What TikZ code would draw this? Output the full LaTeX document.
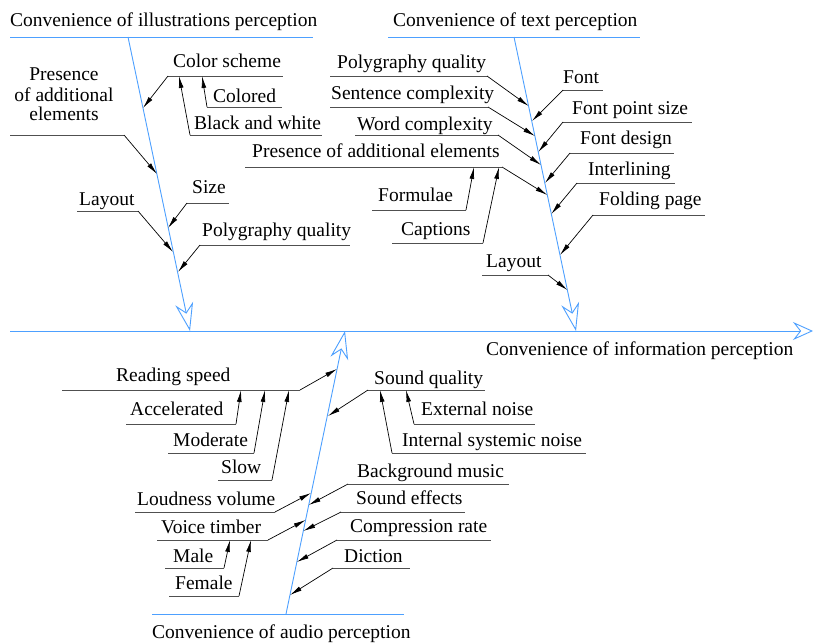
\documentclass[tikz,border=0pt]{standalone}
\usepackage{fontspec}
\setmainfont{Liberation Serif}
\usetikzlibrary{arrows.meta}
\definecolor{bone}{RGB}{77,160,255}
\definecolor{ul}{RGB}{80,80,80}
\begin{document}
\begin{tikzpicture}[x=1pt,y=-1pt,
  lbl/.style={anchor=base west,inner sep=0pt,font=\fontsize{19.5}{22}\selectfont},
  bonel/.style={draw=bone,line width=0.9pt},
  bigarrow/.style={-{Stealth[open,length=28pt,width=18pt,inset=9pt]},draw=bone,line width=0.9pt},
  uline/.style={draw=ul,line width=0.9pt},
  conn/.style={draw=black,line width=0.7pt,-{Latex[length=12pt,width=4.8pt]}}]
\useasboundingbox (0,0) rectangle (813,642);
\fill[white] (0,0) rectangle (813,642);

% ---------- main axis ----------
\coordinate (M0) at (10,331);
\coordinate (M1) at (813,331);
\draw[bonel,-{Stealth[open,length=20pt,width=18pt,inset=7pt]}] (M0) -- (M1);
\node[lbl] (main) at (486,355) {Convenience of information perception};

% ---------- illustrations bone ----------
\node[lbl] (ti) at (10,27) {Convenience of illustrations perception};
\coordinate (I0) at (128,37);
\coordinate (I1) at (190,331);
\draw[bonel] (10,37) coordinate (IL) -- (313,37) coordinate (IR);
\draw[bigarrow] (I0) -- (I1);
\coordinate (iCS) at (143,108);
\coordinate (iPr) at (157,174);
\coordinate (iSz) at (168,228);
\coordinate (iLa) at (173,252);
\coordinate (iPq) at (178,272);

\node[lbl] (cs) at (173,67) {Color scheme};
\draw[uline] (168,76) coordinate (csL) -- (283,76) coordinate (csR);
\draw[conn] (csL) -- (iCS);
\coordinate (csA) at (202,76);
\coordinate (csB) at (179,76);

\node[lbl] (col) at (213,102) {Colored};
\draw[uline] (207,107) coordinate (colL) -- (282,107) coordinate (colR);
\draw[conn] (colL) -- (csA);

\node[lbl] (bw) at (194,129) {Black and white};
\draw[uline] (190,135) coordinate (bwL) -- (322,135) coordinate (bwR);
\draw[conn] (bwL) -- (csB);

\node[lbl,anchor=base] (pr1) at (64,81) {Presence};
\node[lbl,anchor=base] (pr2) at (64,101) {of additional};
\node[lbl,anchor=base] (pr3) at (64,120) {elements};
\draw[uline] (10,135) coordinate (prL) -- (124,135) coordinate (prR);
\draw[conn] (prR) -- (iPr);

\node[lbl] (la) at (79,205) {Layout};
\draw[uline] (77,211) coordinate (laL) -- (138,211) coordinate (laR);
\draw[conn] (laR) -- (iLa);

\node[lbl] (sz) at (192,193) {Size};
\draw[uline] (187,203) coordinate (szL) -- (229,203) coordinate (szR);
\draw[conn] (szL) -- (iSz);

\node[lbl] (pq) at (202,236) {Polygraphy quality};
\draw[uline] (200,245) coordinate (pqL) -- (350,245) coordinate (pqR);
\draw[conn] (pqL) -- (iPq);

% ---------- text bone ----------
\node[lbl] (tt) at (393,27) {Convenience of text perception};
\coordinate (T0) at (514,37);
\coordinate (T1) at (576,331);
\draw[bonel] (388,37) coordinate (TL) -- (640,37) coordinate (TR);
\draw[bigarrow] (T0) -- (T1);
\coordinate (tPq) at (528.6,106);
\coordinate (tFo) at (532,121);
\coordinate (tSc) at (535,136);
\coordinate (tFp) at (538.3,152);
\coordinate (tWc) at (541,165);
\coordinate (tFd) at (545,183);
\coordinate (tPr) at (547.3,195);
\coordinate (tIn) at (551.3,214);
\coordinate (tFg) at (560,255);
\coordinate (tLa) at (567.4,290);

\node[lbl] (tpq) at (337,68) {Polygraphy quality};
\draw[uline] (330,76) coordinate (tpqL) -- (487,76) coordinate (tpqR);
\draw[conn] (tpqR) -- (tPq);

\node[lbl] (tsc) at (331,99) {Sentence complexity};
\draw[uline] (330,107) coordinate (tscL) -- (488,107) coordinate (tscR);
\draw[conn] (tscR) -- (tSc);

\node[lbl] (twc) at (357,130) {Word complexity};
\draw[uline] (355,135) coordinate (twcL) -- (498,135) coordinate (twcR);
\draw[conn] (twcR) -- (tWc);

\node[lbl] (tpr) at (252,157) {Presence of additional elements};
\draw[uline] (245,167) coordinate (tprL) -- (502,167) coordinate (tprR);
\draw[conn] (tprR) -- (tPr);
\coordinate (tprA) at (474,167);
\coordinate (tprB) at (499,167);

\node[lbl] (tfm) at (378,201) {Formulae};
\draw[uline] (372,210) coordinate (tfmL) -- (466,210) coordinate (tfmR);
\draw[conn] (tfmR) -- (tprA);

\node[lbl] (tca) at (401,235) {Captions};
\draw[uline] (392,243) coordinate (tcaL) -- (483,243) coordinate (tcaR);
\draw[conn] (tcaR) -- (tprB);

\node[lbl] (tla) at (486,267) {Layout};
\draw[uline] (482,275) coordinate (tlaL) -- (548,275) coordinate (tlaR);
\draw[conn] (tlaR) -- (tLa);

\node[lbl] (tfo) at (563,83) {Font};
\draw[uline] (563,90) coordinate (tfoL) -- (603,90) coordinate (tfoR);
\draw[conn] (tfoL) -- (tFo);

\node[lbl] (tfp) at (572,114) {Font point size};
\draw[uline] (563,122) coordinate (tfpL) -- (692,122) coordinate (tfpR);
\draw[conn] (tfpL) -- (tFp);

\node[lbl] (tfd) at (580,144) {Font design};
\draw[uline] (570,153) coordinate (tfdL) -- (674,153) coordinate (tfdR);
\draw[conn] (tfdL) -- (tFd);

\node[lbl] (tin) at (588,175) {Interlining};
\draw[uline] (577,183) coordinate (tinL) -- (675,183) coordinate (tinR);
\draw[conn] (tinL) -- (tIn);

\node[lbl] (tfg) at (599,205) {Folding page};
\draw[uline] (593,215) coordinate (tfgL) -- (705,215) coordinate (tfgR);
\draw[conn] (tfgL) -- (tFg);

% ---------- audio bone ----------
\node[lbl] (ta) at (152,638) {Convenience of audio perception};
\coordinate (A0) at (286,614);
\coordinate (A1) at (345,331);
\draw[bonel] (152,614) coordinate (AL) -- (404,614) coordinate (AR);
\draw[bigarrow] (A0) -- (A1);
\coordinate (aRs) at (337,369);
\coordinate (aSq) at (328,416);
\coordinate (aLv) at (311,493);
\coordinate (aBm) at (308.7,505);
\coordinate (aVt) at (305.6,520);
\coordinate (aSe) at (303.3,531);
\coordinate (aCr) at (296.8,562);
\coordinate (aDi) at (290,595);

\node[lbl] (rs) at (116,381) {Reading speed};
\draw[uline] (62,390) coordinate (rsL) -- (300,390) coordinate (rsR);
\draw[conn] (rsR) -- (aRs);
\coordinate (rsA) at (241,390);
\coordinate (rsB) at (265,390);
\coordinate (rsC) at (289,390);

\node[lbl] (ac) at (130,415) {Accelerated};
\draw[uline] (126,424) coordinate (acL) -- (236,424) coordinate (acR);
\draw[conn] (acR) -- (rsA);

\node[lbl] (mo) at (173,446) {Moderate};
\draw[uline] (168,453) coordinate (moL) -- (254,453) coordinate (moR);
\draw[conn] (moR) -- (rsB);

\node[lbl] (sl) at (221,473) {Slow};
\draw[uline] (218,480) coordinate (slL) -- (272,480) coordinate (slR);
\draw[conn] (slR) -- (rsC);

\node[lbl] (sq) at (374,384) {Sound quality};
\draw[uline] (368,390) coordinate (sqL) -- (485,390) coordinate (sqR);
\draw[conn] (sqL) -- (aSq);
\coordinate (sqA) at (406,390);
\coordinate (sqB) at (380,390);

\node[lbl] (en) at (421,415) {External noise};
\draw[uline] (414,424) coordinate (enL) -- (535,424) coordinate (enR);
\draw[conn] (enL) -- (sqA);

\node[lbl] (in) at (402,446) {Internal systemic noise};
\draw[uline] (392,453) coordinate (inL) -- (586,453) coordinate (inR);
\draw[conn] (inL) -- (sqB);

\node[lbl] (bm) at (357,477) {Background music};
\draw[uline] (348,484) coordinate (bmL) -- (509,484) coordinate (bmR);
\draw[conn] (bmL) -- (aBm);

\node[lbl] (lv) at (137,505) {Loudness volume};
\draw[uline] (135,512) coordinate (lvL) -- (275,512) coordinate (lvR);
\draw[conn] (lvR) -- (aLv);

\node[lbl] (se) at (356,504) {Sound effects};
\draw[uline] (341,512) coordinate (seL) -- (465,512) coordinate (seR);
\draw[conn] (seL) -- (aSe);

\node[lbl] (vt) at (161,533) {Voice timber};
\draw[uline] (157,540) coordinate (vtL) -- (268,540) coordinate (vtR);
\draw[conn] (vtR) -- (aVt);
\coordinate (vtA) at (230,540);
\coordinate (vtB) at (251,540);

\node[lbl] (cr) at (350,532) {Compression rate};
\draw[uline] (337,540) coordinate (crL) -- (491,540) coordinate (crR);
\draw[conn] (crL) -- (aCr);

\node[lbl] (ma) at (173,562) {Male};
\draw[uline] (165,568) coordinate (maL) -- (224,568) coordinate (maR);
\draw[conn] (maR) -- (vtA);

\node[lbl] (fe) at (175,589) {Female};
\draw[uline] (169,596) coordinate (feL) -- (239,596) coordinate (feR);
\draw[conn] (feR) -- (vtB);

\node[lbl] (di) at (344,562) {Diction};
\draw[uline] (333,568) coordinate (diL) -- (410,568) coordinate (diR);
\draw[conn] (diL) -- (aDi);
\end{tikzpicture}
\end{document}
